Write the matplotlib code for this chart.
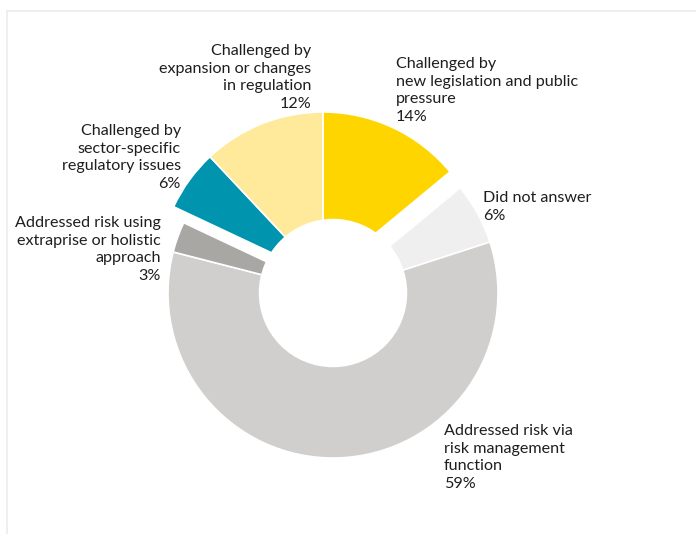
import matplotlib.pyplot as plt
from matplotlib.patches import Circle
from matplotlib.lines import Line2D

# Survey answers, clockwise from 12 o'clock
labels = [
    'Challenged by\nnew legislation and public\npressure',
    'Did not answer',
    'Addressed risk via\nrisk management\nfunction',
    'Addressed risk using\nextraprise or holistic\napproach',
    'Challenged by\nsector-specific\nregulatory issues',
    'Challenged by\nexpansion or changes\nin regulation',
]
shares = [14, 6, 59, 3, 6, 12]
colors = ['#ffd500', '#efefef', '#d0cfcd', '#a8a7a3', '#0094af', '#ffe99a']
challenged = [True, False, False, False, True, True]

plt.rcParams['font.family'] = ['Lato', 'DejaVu Sans']

fig = plt.figure(figsize=(6.96, 5.34), dpi=100)
ax = fig.add_axes([0, 0, 1, 1])

wedges, _ = ax.pie(shares, colors=colors, startangle=90, counterclock=False,
                   radius=1.0, wedgeprops=dict(edgecolor='white', linewidth=1.2))

# pull the "challenged" group out up and to the left
for w, c in zip(wedges, challenged):
    if c:
        w.set_center((-0.061, 0.097))

# donut hole
ax.add_patch(Circle((0, 0), 0.45, facecolor='white', edgecolor='none', zorder=5))

# pixel -> data helper (165 px per unit radius, centre at 333,293)
def px(x, y):
    return (x - 333) / 165, (293 - y) / 165

label_pos = [(396, 57, 'left'), (483, 191, 'left'), (444, 424, 'left'),
             (161, 216, 'right'), (181, 124, 'right'), (311, 44, 'right')]

for lab, s, (x, y, ha) in zip(labels, shares, label_pos):
    tx, ty = px(x, y)
    ax.text(tx, ty, f'{lab}\n{s}%', ha=ha, va='top', multialignment=ha,
            fontsize=11.6, color='#1e1e1e', linespacing=1.32)

ax.set_xlim(-333 / 165, (696 - 333) / 165)
ax.set_ylim((293 - 534) / 165, 293 / 165)
ax.set_aspect('equal')
ax.axis('off')

# thin frame along top and left
fig.add_artist(Line2D([7 / 696, 1], [1 - 11 / 534] * 2, color='#ececec', lw=1.2))
fig.add_artist(Line2D([7 / 696] * 2, [0, 1 - 11 / 534], color='#ececec', lw=1.2))

fig.savefig('out.png', dpi=100)
